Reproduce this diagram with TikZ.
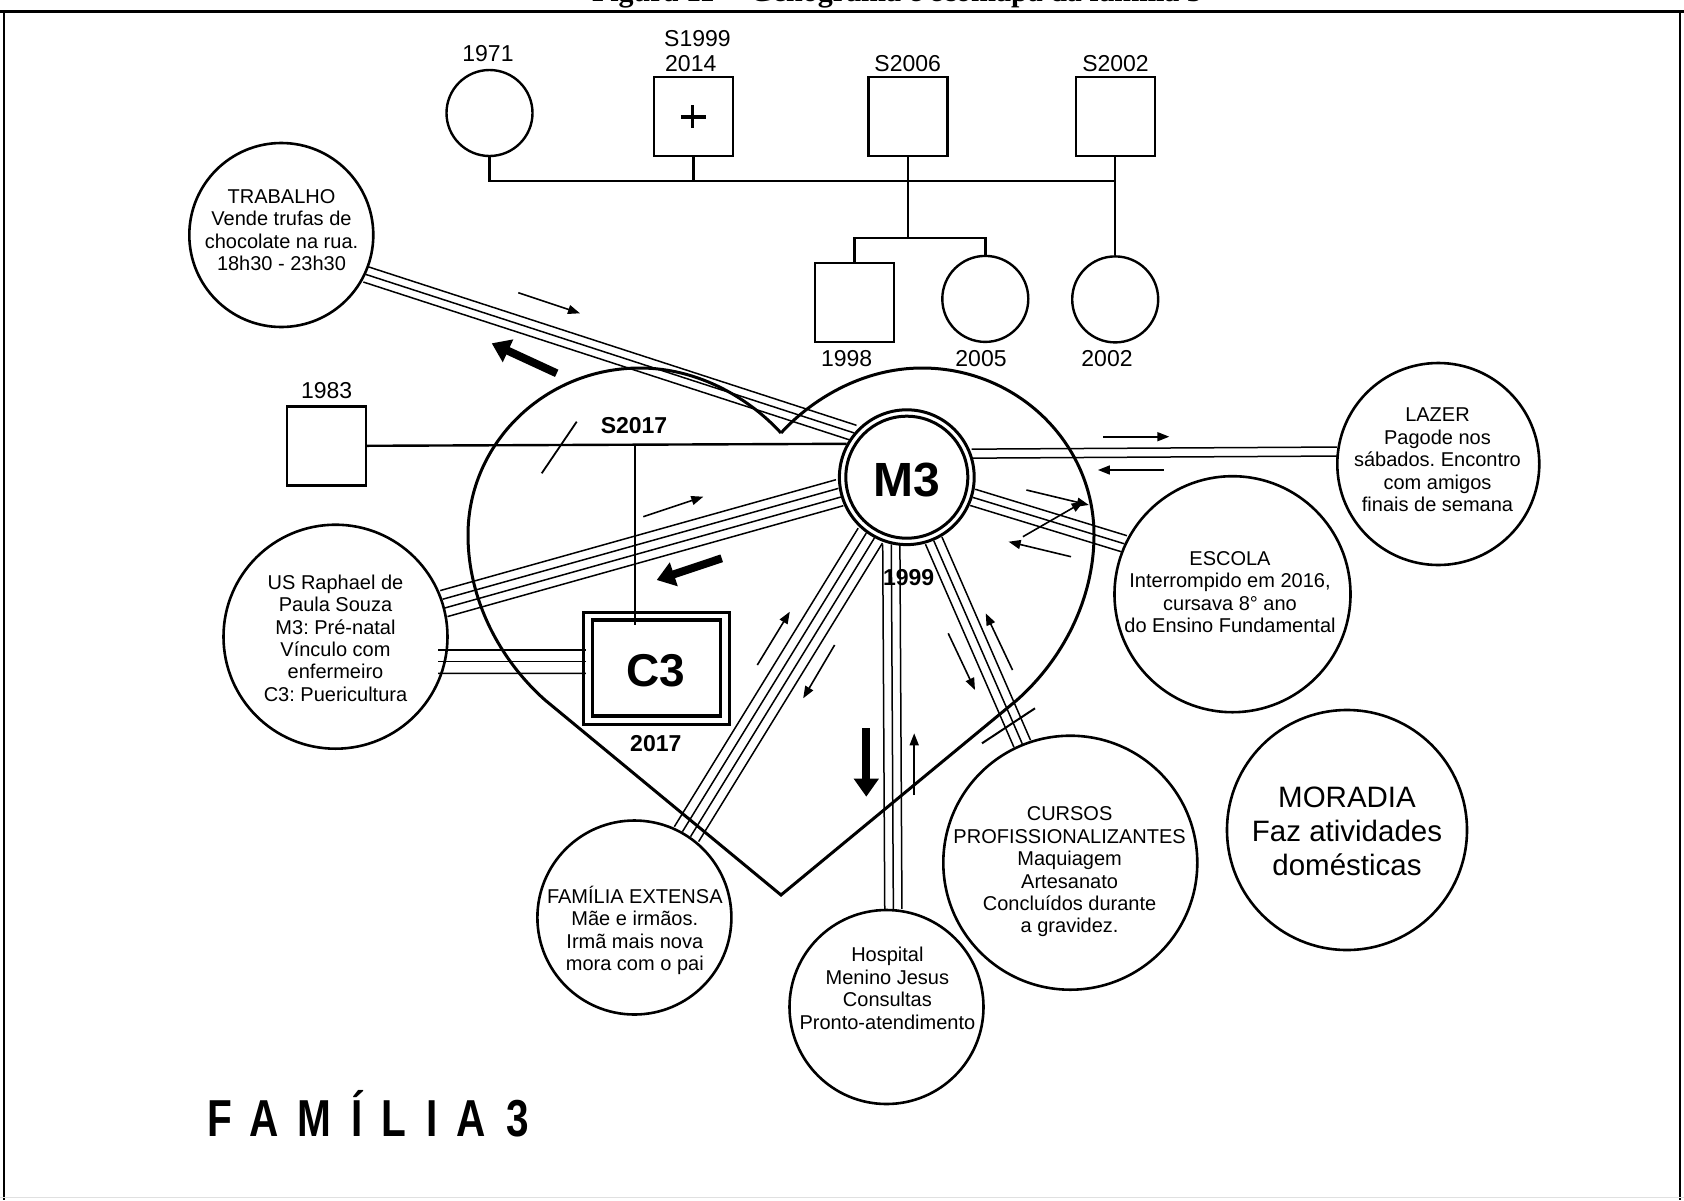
\documentclass[tikz,border=0pt]{standalone}
\usepackage{fontspec}
\setmainfont{Liberation Sans}
\newfontfamily\capfont{Liberation Serif}
\usetikzlibrary{arrows.meta,calc,shapes.geometric}
\newcommand{\fs}[2]{\fontsize{#1}{#2}\selectfont}
\newcommand{\fst}{\rule{0pt}{1em}}
\newcommand{\mline}[4]{%
  \foreach \o in {#3}{\draw[conn] ($(#1)!\o*#4!90:(#2)$) -- ($(#2)!\o*#4!-90:(#1)$);}}
\frenchspacing
\begin{document}
\begin{tikzpicture}[x=1pt,y=-1pt,
  circ/.style={circle, draw, line width=2.6pt, inner sep=0pt, minimum size=#1},
  gcirc/.style={circle, draw, line width=2.4pt, inner sep=0pt, minimum size=86pt},
  sq/.style={rectangle, draw, line width=2.4pt, minimum size=79pt, inner sep=0pt},
  gen/.style={line width=2.4pt},
  conn/.style={line width=1.5pt},
  lbl/.style={font=\fs{23}{27}, inner sep=0pt, anchor=base},
  blbl/.style={font=\bfseries\fs{23}{27}, inner sep=0pt, anchor=base},
  ctext/.style={font=\fs{20}{22.4}, align=center, inner sep=0pt, anchor=north},
  sarrow/.style={line width=1.6pt, -{Triangle[length=12pt,width=9pt]}},
  barrow/.style={line width=8pt, -{Triangle[length=18pt,width=24pt]}}]
\useasboundingbox (0,0) rectangle (1684,1200);
\fill[white] (0,0) rectangle (1684,1200);
% frame and caption (cut off at the top edge, as in the source page)
\node[font=\capfont\bfseries\fs{30}{30}, anchor=base, inner sep=0pt] (cap) at (897,1.5) {Figura 11 -- Genograma e ecomapa da família 3};
\draw[line width=3pt] (0,11) -- (1684,11);
\draw[line width=2.5pt] (4,11) -- (4,1200);
\draw[line width=2.5pt] (1680,11) -- (1680,1200);
\draw[black!12, line width=1pt] (0,1197.5) -- (1684,1197.5);

% heart
\draw[line width=3pt, line join=miter] (781,433) .. controls (751,400) and (700,368) .. (640,368)
  .. controls (545,368) and (468,443) .. (468,535)
  .. controls (468,600) and (500,660) .. (545,700) -- (781,895) -- (1017,700)
  .. controls (1062,660) and (1094,600) .. (1094,535)
  .. controls (1094,443) and (1017,368) .. (922,368)
  .. controls (862,368) and (811,400) .. (781,433);

% genogram
\node[gcirc] (g1971) at (489.5,113) {};
\node[sq] (g1999) at (693.3,116.4) {};
\node[sq] (g2006) at (907.8,116.5) {};
\node[sq] (g2002) at (1115.2,116.5) {};
\node[sq] (g1998) at (854.5,302.2) {};
\node[gcirc] (g2005) at (985.3,298.9) {};
\node[gcirc] (g2002c) at (1115.2,299.4) {};
\node[sq] (g1983) at (326.3,445.8) {};
\draw[line width=3.2pt] ($(g1999)+(-12.5,0.6)$) -- ($(g1999)+(12.5,0.6)$);
\draw[line width=3.2pt] ($(g1999)+(-0.8,-11)$) -- ($(g1999)+(-0.8,12)$);
\coordinate (pline) at (0,180.7);
\coordinate (cbar) at (0,237.7);
\draw[gen] (g1971.south) -- (g1971.south |- pline) -- (g2002.south |- pline);
\draw[gen] (g1999.south) -- (g1999.south |- pline);
\draw[gen] (g2002.south) -- (g2002.south |- g2002c.north);
\draw[gen] (g2006.south) -- (g2006.south |- cbar);
\draw[gen] (g1998.north) -- (g1998.north |- cbar) -- (g2005.north |- cbar) -- (g2005.north);

\node[lbl] (l1971) at (488,61.7) {1971};
\node[lbl, anchor=base west] (l1999a) at (664,46.7) {S1999};
\node[lbl, anchor=base west] (l1999b) at (665,71.7) {2014};
\node[lbl] (l2006) at (907.7,71.7) {S2006};
\node[lbl] (l2002) at (1115.5,71.7) {S2002};
\node[lbl] (l1998) at (846.6,366) {1998};
\node[lbl] (l2005) at (981,366) {2005};
\node[lbl] (l2002b) at (1107,366) {2002};
\node[lbl] (l1983) at (326.7,398.3) {1983};

% central person and child
\node[circle, draw, line width=3pt, inner sep=0pt, minimum size=134.8pt] (m3) at (906.8,477.2) {};
\node[circle, draw, line width=3pt, inner sep=0pt, minimum size=122pt] (m3i) at (906.8,477.2) {};
\node[font=\bfseries\fs{48}{48}, anchor=base, inner sep=0pt] (m3t) at (906.8,496.7) {M3};
\node[rectangle, draw, line width=2.5pt, minimum width=145.6pt, minimum height=112.2pt, inner sep=0pt] (c3) at (656.5,668.4) {};
\node[rectangle, draw, line width=3.5pt, minimum width=127.7pt, minimum height=95.9pt, inner sep=0pt] (c3i) at (656.4,668) {};
\node[font=\bfseries\fs{46}{46}, anchor=base, inner sep=0pt] (c3t) at (655.8,686.7) {C3};

% marriage
\draw[gen] (g1983.east) -- (m3.151.7);
\coordinate (mc) at (635,445);
\draw[line width=2pt] (mc) -- ($(mc |- c3.north)+(0,14)$);
\coordinate (sl1) at (576.7,421.7);
\coordinate (sl2) at (541.7,473.3);
\draw[line width=1.8pt] (sl1) -- (sl2);
\node[blbl] (s2017) at (634,433.3) {S2017};
\node[blbl] (l2017) at (655.8,751.7) {2017};

% ecomap circles
\node[circ=184pt] (trab) at (281.3,235) {};
\node[circ=224pt] (us) at (335.5,636.7) {};
\node[circ=202pt] (lazer) at (1438.3,464) {};
\node[circ=236pt] (escola) at (1232.5,594.2) {};
\node[circ=194pt] (fam) at (634.4,917.5) {};
\node[circ=194pt] (hosp) at (886.5,1007) {};
\node[circ=254pt] (cursos) at (1070.3,862.7) {};
\node[circ=240pt] (mor) at (1347,830) {};

\node[ctext] (trabt) at (281.5,183.3) {\fst TRABALHO\\Vende trufas de\\chocolate na rua.\\18h30 - 23h30};
\node[ctext] (ust) at (335.5,569) {\fst US Raphael de\\Paula Souza\\M3: Pré-natal\\Vínculo com\\enfermeiro\\C3: Puericultura};
\node[ctext] (lazert) at (1437.5,401.7) {\fst LAZER\\Pagode nos\\sábados. Encontro\\com amigos\\finais de semana};
\node[ctext] (escolat) at (1230,545) {\fst ESCOLA\\Interrompido em 2016,\\cursava 8° ano\\do Ensino Fundamental};
\node[ctext] (famt) at (634.8,883.3) {\fst FAMÍLIA EXTENSA\\Mãe e irmãos.\\Irmã mais nova\\mora com o pai};
\node[ctext] (hospt) at (887.4,941.7) {\fst Hospital\\Menino Jesus\\Consultas\\Pronto-atendimento};
\node[ctext] (cursost) at (1069.6,800.7) {\fst CURSOS\\PROFISSIONALIZANTES\\Maquiagem\\Artesanato\\Concluídos durante\\a gravidez.};
\node[ctext, font=\fs{29.5}{33.8}] (mort) at (1347,777.8) {\fst MORADIA\\Faz atividades\\domésticas};

% connectors
\mline{trab.-25.5}{m3.140}{-1,0,1}{8pt}
\mline{us.17}{m3.193}{-1.5,-0.5,0.5,1.5}{9pt}
\mline{m3.20.7}{lazer.173.6}{-0.5,0.5}{9pt}
\mline{m3.-17.7}{escola.155.6}{-1,0,1}{8.5pt}
\mline{fam.58.25}{m3.238.25}{-1.5,-0.5,0.5,1.5}{9.5pt}
\mline{m3.257.4}{hosp.86.8}{-1,0,1}{8.6pt}
\mline{m3.-67.1}{cursos.112.9}{-1,0,1}{9pt}
\draw[conn] ($(us.center)+(102.5,13.3)$) -- ($(c3.west)+(3.5,-18.4)$);
\draw[conn] ($(us.center)+(102.5,25)$) -- ($(c3.west)+(3.5,-6.7)$);
\draw[conn] ($(us.center)+(102.5,36.6)$) -- ($(c3.west)+(3.5,4.9)$);
\coordinate (cs1) at (1035,708.3);
\coordinate (cs2) at (982,743.3);
\draw[line width=2pt] (cs1) -- (cs2);

\node[blbl] (l1999) at (908.6,585) {1999};

% flow arrows
\coordinate (a1s) at (518.3,292.7); \coordinate (a1e) at (580,313.3);
\draw[sarrow] (a1s) -- (a1e);
\coordinate (b1s) at (556.7,373.3); \coordinate (b1e) at (491.7,343.3);
\draw[barrow] (b1s) -- (b1e);
\coordinate (a2s) at (643.3,516.7); \coordinate (a2e) at (703.3,496.7);
\draw[sarrow] (a2s) -- (a2e);
\coordinate (b2s) at (721.7,558.3); \coordinate (b2e) at (656.7,580);
\draw[barrow] (b2s) -- (b2e);
\coordinate (a3s) at (1103.2,436.7); \coordinate (a3e) at (1169.3,436.7);
\draw[sarrow] (a3s) -- (a3e);
\coordinate (a4s) at (1163.9,470); \coordinate (a4e) at (1097.9,470);
\draw[sarrow] (a4s) -- (a4e);
\coordinate (a5s) at (1026.4,490); \coordinate (a5e) at (1088.9,505);
\draw[sarrow] (a5s) -- (a5e);
\coordinate (a6s) at (1022.9,536.7); \coordinate (a6e) at (1083.6,501.7);
\draw[sarrow] (a6s) -- (a6e);
\coordinate (a7s) at (1071,556.7); \coordinate (a7e) at (1008.6,541.7);
\draw[sarrow] (a7s) -- (a7e);
\coordinate (a8s) at (757.3,665); \coordinate (a8e) at (789.8,611.7);
\draw[sarrow] (a8s) -- (a8e);
\coordinate (a9s) at (834.6,645); \coordinate (a9e) at (803.2,698.3);
\draw[sarrow] (a9s) -- (a9e);
\coordinate (b3s) at (866.3,728.3); \coordinate (b3e) at (866.3,796.7);
\draw[barrow] (b3s) -- (b3e);
\coordinate (a10s) at (914.2,795); \coordinate (a10e) at (914.2,733.3);
\draw[sarrow] (a10s) -- (a10e);
\coordinate (a11s) at (948.2,633.3); \coordinate (a11e) at (975,690);
\draw[sarrow] (a11s) -- (a11e);
\coordinate (a12s) at (1012.5,670); \coordinate (a12e) at (985.7,613.3);
\draw[sarrow] (a12s) -- (a12e);

% title
\node[font=\bfseries\fs{52}{52}, anchor=base west, inner sep=0pt] (fam3) at (207,1136.7)
  {\scalebox{0.78}[1]{\addfontfeature{LetterSpace=48}FAMÍLIA\hspace{26pt}3}};
\end{tikzpicture}
\end{document}
